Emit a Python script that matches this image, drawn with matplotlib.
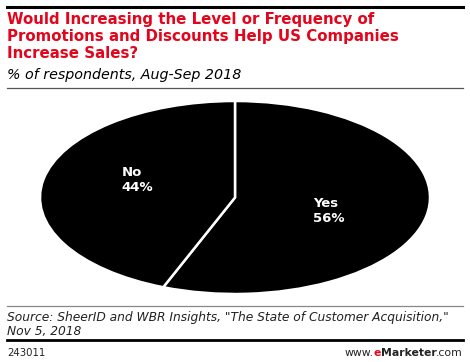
import numpy as np
import matplotlib
matplotlib.use('Agg')
from matplotlib import pyplot as plt
from matplotlib.lines import Line2D

labels = ['Yes', 'No']
shares = [56, 44]
title = ('Would Increasing the Level or Frequency of\n'
         'Promotions and Discounts Help US Companies\n'
         'Increase Sales?')
subtitle = '% of respondents, Aug-Sep 2018'
source = ('Source: SheerID and WBR Insights, "The State of Customer Acquisition,"\n'
          'Nov 5, 2018')
chart_id = '243011'

W, H = 470, 362
fig = plt.figure(figsize=(W / 100, H / 100), dpi=100)
red = '#e3051b'


def fy(py):
    return 1 - py / H


def fx(px):
    return px / W


# rules
fig.add_artist(Line2D([fx(7), fx(463)], [fy(7), fy(7)], color='black', lw=2.2))
fig.add_artist(Line2D([fx(7), fx(463)], [fy(88), fy(88)], color='#555555', lw=0.9))
fig.add_artist(Line2D([fx(7), fx(463)], [fy(306), fy(306)], color='#888888', lw=0.9))
fig.add_artist(Line2D([fx(7), fx(463)], [fy(340), fy(340)], color='black', lw=2.0))

fig.text(fx(7), fy(12), title, color=red, fontsize=10.8, fontweight='bold',
         va='top', ha='left', linespacing=1.18)
fig.text(fx(7), fy(68), subtitle, fontsize=10.3, style='italic', va='top', ha='left')
fig.text(fx(7), fy(311), source, fontsize=8.8, style='italic', va='top', ha='left',
         color='#222222', linespacing=1.1)
fig.text(fx(7), fy(353), chart_id, fontsize=7.3, va='center', ha='left', color='#222222')

# pie, stretched into an ellipse
ax = fig.add_axes([fx(40), fy(294), fx(430) - fx(40), fy(101) - fy(294)])
wedges, _ = ax.pie(shares, startangle=90, counterclock=False,
                   colors=['black', 'black'],
                   wedgeprops=dict(edgecolor='white', linewidth=1.8))
ax.set_aspect('auto')
ax.set_xlim(-1, 1)
ax.set_ylim(-1, 1)
ax.axis('off')

label_pos = {'Yes': (0.40, -0.14), 'No': (-0.58, 0.18)}
for lab, val in zip(labels, shares):
    x, y = label_pos[lab]
    ax.text(x, y, f'{lab}\n{val}%', color='white', fontsize=9.5, fontweight='bold',
            ha='left', va='center', linespacing=1.15)

# footer logo text, assembled right to left
fig.canvas.draw()
r = fig.canvas.get_renderer()
xr = fx(463)
parts = [('.com', 'normal', '#222222'), ('Marketer', 'bold', '#222222'),
         ('e', 'bold', red), ('www.', 'normal', '#222222')]
for txt, wt, col in parts:
    t = fig.text(xr, fy(353), txt, fontsize=7.8, fontweight=wt, color=col,
                 ha='right', va='center')
    bb = t.get_window_extent(renderer=r)
    xr = bb.x0 / fig.bbox.width

fig.savefig('out.png', dpi=100)
